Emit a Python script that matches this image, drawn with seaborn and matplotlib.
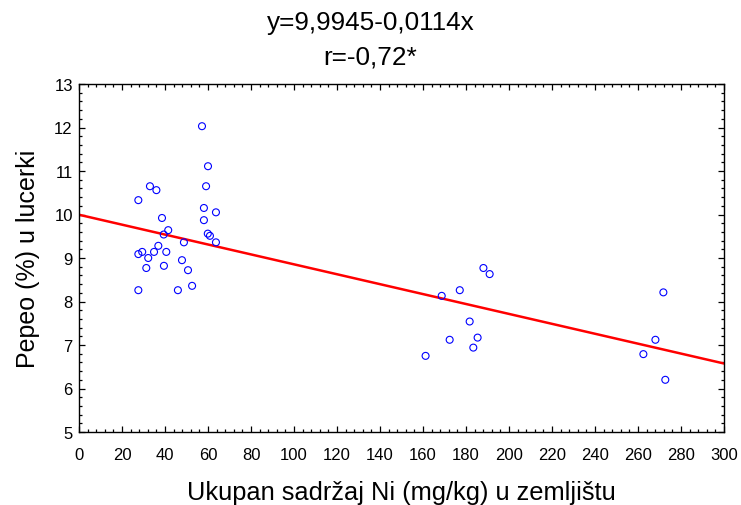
import numpy as np
import pandas as pd
import seaborn as sns
import matplotlib
matplotlib.use("Agg")
import matplotlib.pyplot as plt
from matplotlib.ticker import MultipleLocator

# ---- data ----
ni_soil = [57.2, 60.0, 33.0, 36.0, 59.1, 27.6, 58.1, 63.7, 38.6, 58.1,
           41.5, 39.4, 59.9, 60.9, 48.8, 63.7, 36.9, 27.6, 29.4, 34.9,
           40.6, 32.2, 47.9, 31.3, 39.5, 50.7, 52.6, 27.6, 46.0,
           188.1, 191.0, 177.1, 168.7, 181.7, 172.4, 185.4, 183.4, 161.2,
           271.8, 268.1, 262.5, 272.7]
ash = [12.03, 11.11, 10.65, 10.56, 10.65, 10.33, 10.15, 10.05, 9.92, 9.87,
       9.64, 9.54, 9.56, 9.51, 9.36, 9.36, 9.28, 9.09, 9.14, 9.14,
       9.14, 9.00, 8.95, 8.77, 8.82, 8.72, 8.36, 8.26, 8.26,
       8.77, 8.63, 8.26, 8.13, 7.54, 7.12, 7.17, 6.94, 6.75,
       8.21, 7.12, 6.79, 6.20]
intercept = 9.9945
slope = -0.0114
x_range = [0, 300]
title_lines = ["y=9,9945-0,0114x", "r=-0,72*"]
xlabel = "Ukupan sadržaj Ni (mg/kg) u zemljištu"
ylabel = "Pepeo (%) u lucerki"

df = pd.DataFrame({"x": ni_soil, "y": ash})
line_df = pd.DataFrame({"x": x_range,
                        "y": [intercept + slope * v for v in x_range]})

sns.set_style("ticks")
plt.rcParams["font.family"] = ["Liberation Sans", "DejaVu Sans"]
plt.rcParams["text.color"] = "black"
plt.rcParams["axes.labelcolor"] = "black"
plt.rcParams["xtick.color"] = "black"
plt.rcParams["ytick.color"] = "black"

fig = plt.figure(figsize=(7.41, 5.06), dpi=100)
ax = fig.add_axes([79 / 741, 1 - 433 / 506, (724 - 79) / 741, (433 - 85) / 506])

sns.scatterplot(data=df, x="x", y="y", ax=ax, marker="o", s=25,
                linewidth=0.8, zorder=3)
pts = ax.collections[0]
pts.set_facecolor("none")
pts.set_edgecolor("#0000ff")

sns.lineplot(data=line_df, x="x", y="y", ax=ax, color="#ff0000",
             linewidth=1.8, zorder=2)

ax.set_xlim(0, 300)
ax.set_ylim(5, 13)
ax.xaxis.set_major_locator(MultipleLocator(20))
ax.xaxis.set_minor_locator(MultipleLocator(4))
ax.yaxis.set_major_locator(MultipleLocator(1))
ax.yaxis.set_minor_locator(MultipleLocator(0.2))
ax.tick_params(which="both", direction="in", top=True, right=True,
               colors="black", labelcolor="black", labelsize=12, width=0.9)
ax.tick_params(which="major", length=4)
ax.tick_params(which="minor", length=2)
ax.tick_params(axis="x", which="major", pad=11)
ax.tick_params(axis="y", which="major", pad=4.5)
for s in ax.spines.values():
    s.set_color("black")
    s.set_linewidth(1.0)

ax.set_xlabel(xlabel, fontsize=18.3, labelpad=13, color="black")
ax.set_ylabel(ylabel, fontsize=18, labelpad=10, color="black")

fig.text(0.5, 1 - 23 / 506, title_lines[0], ha="center", va="center",
         fontsize=18.8, color="black")
fig.text(0.5, 1 - 58 / 506, title_lines[1], ha="center", va="center",
         fontsize=18.8, color="black")

fig.savefig("out.png", dpi=100, facecolor="white")
